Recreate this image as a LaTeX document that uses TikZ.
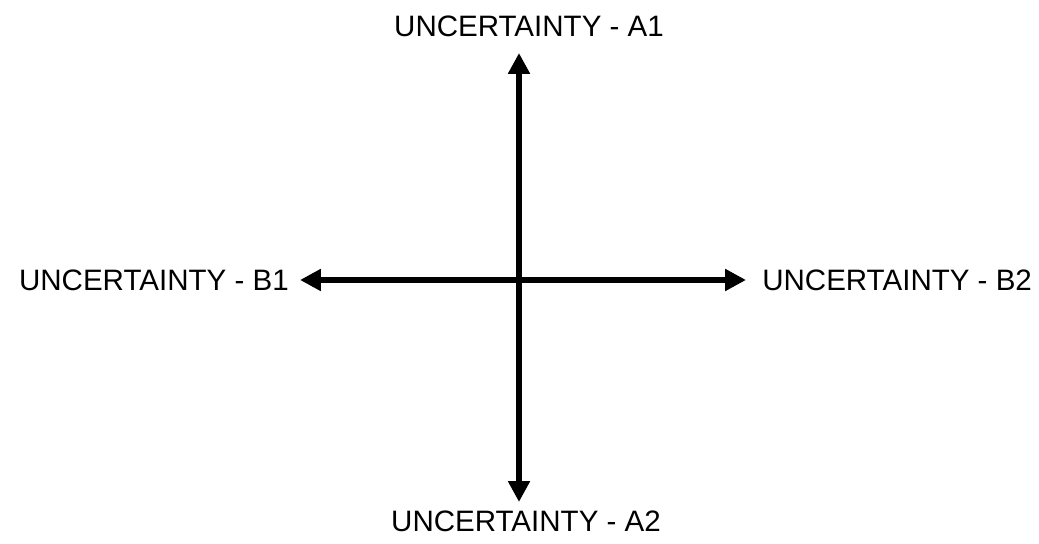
\documentclass[tikz,border=0pt]{standalone}
\usepackage{fontspec}
\setmainfont{Liberation Sans}
\usetikzlibrary{arrows.meta}

\begin{document}
\begin{tikzpicture}[x=0.025cm,y=0.025cm,>={Triangle[length=0.52cm,width=0.52cm]}]
\tikzstyle{lbl}=[inner sep=0pt,font=\fontsize{21}{25}\selectfont]
\tikzstyle{axis}=[line width=0.14cm,<->]
\useasboundingbox (0,0) rectangle (1039,544);
% labels
\node[lbl] (a1) at (529,518) {UNCERTAINTY - A1};
\node[lbl] (a2) at (526,521-498) {UNCERTAINTY - A2};
\node[lbl,anchor=east] (b1) at (289,264) {UNCERTAINTY - B1};
\node[lbl,anchor=west] (b2) at (762,264) {UNCERTAINTY - B2};
% arrow ends
\coordinate (ta1) at (519,491);
\coordinate (ta2) at (519,42);
\coordinate (tb1) at (300,264);
\coordinate (tb2) at (746,264);
\draw[axis] (ta2) -- (ta1);
\draw[axis] (tb1) -- (tb2);
\end{tikzpicture}
\end{document}
